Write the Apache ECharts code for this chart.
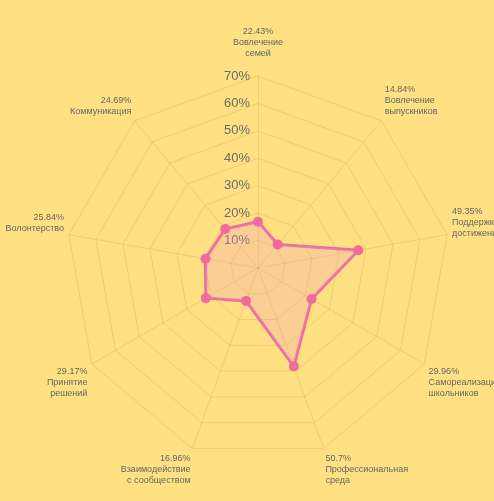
<!DOCTYPE html>
<html><head><meta charset="utf-8">
<script src="https://cdn.jsdelivr.net/npm/echarts@6/dist/echarts.min.js"></script>
<style>html,body{margin:0;padding:0;background:#FFE082;}#c{width:494px;height:501px;}</style>
</head><body><div id="c"></div>
<script>
// clockwise order, starting at the top
const categories = ['Вовлечение\nсемей','Вовлечение\nвыпускников','Поддержка\nдостижений','Самореализация\nшкольников','Профессиональная\nсреда','Взаимодействие\nс сообществом','Принятие\nрешений','Волонтерство','Коммуникация'];
const values = [22.43, 14.84, 49.35, 29.96, 50.7, 16.96, 29.17, 25.84, 24.69];
const tickLabels = ['10%','20%','30%','40%','50%','60%','70%'];
const axisMax = 93;

const n = categories.length;
// ECharts radar runs counter-clockwise: reorder so the picture reads clockwise
const order = [0].concat(categories.map((_, i) => i).slice(1).reverse());

// names above the centre sit on their vertex, names below hang from it
function nameText(k) {
  const text = values[k] + '%\n' + categories[k];
  const h = text.split('\n').length;
  if (k === 0) return text + '\n';
  const s = Math.sin(Math.PI / 2 - k * 2 * Math.PI / n);
  if (s > 0) return text + '\n'.repeat(s < 0.5 ? Math.min(h, 2) : h);
  return '\n'.repeat(h) + text;
}
const nameMap = {};
order.forEach(k => { nameMap['i' + k] = nameText(k); });

const chart = echarts.init(document.getElementById('c'));
chart.setOption({
  backgroundColor: '#FFE082',
  radar: {
    center: [258, 268],
    radius: 192,
    startAngle: 90,
    splitNumber: tickLabels.length,
    shape: 'polygon',
    indicator: order.map((k, j) => ({
      name: 'i' + k, max: axisMax, min: 0,
      axisLabel: j === 0 ? { show: true, color: '#6a6a6a', fontSize: 13,
        formatter: v => { const t = Math.round(v / axisMax * tickLabels.length); return t > 0 ? tickLabels[t - 1] : ''; } } : { show: false }
    })),
    axisName: { color: '#666', fontSize: 9, lineHeight: 11, fontFamily: 'Liberation Sans, Arial, sans-serif', formatter: v => nameMap[v] },
    nameGap: 5,
    splitLine: { lineStyle: { color: 'rgba(185,150,60,0.26)', width: 1 } },
    axisLine: { lineStyle: { color: 'rgba(185,150,60,0.26)', width: 1 } },
    splitArea: { show: false }
  },
  series: [{
    type: 'radar',
    symbol: 'circle',
    symbolSize: 10,
    lineStyle: { color: '#F06A9E', width: 3 },
    itemStyle: { color: '#F06A9E' },
    areaStyle: { color: 'rgba(240,160,200,0.38)' },
    data: [{ value: order.map(k => values[k]) }]
  }]
});
</script></body></html>
